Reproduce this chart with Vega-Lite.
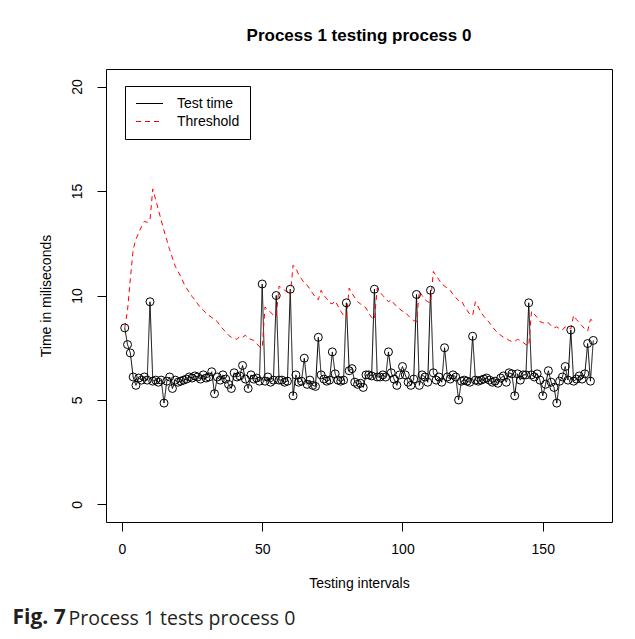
{
  "$schema": "https://vega.github.io/schema/vega-lite/v6.json",
  "background": "white",
  "padding": {"left": 12, "top": 26, "right": 5, "bottom": 5},
  "config": {
    "font": "Liberation Sans",
    "view": {"stroke": "black", "strokeWidth": 1},
    "concat": {"spacing": 0},
    "axis": {
      "domain": false, "grid": false,
      "tickColor": "black", "tickSize": 9, "tickWidth": 1,
      "labelFont": "Liberation Sans", "labelFontSize": 14, "labelColor": "black",
      "titleFont": "Liberation Sans", "titleFontSize": 14, "titleFontWeight": "normal", "titleColor": "black",
      "labelPadding": 11, "labelFlush": false, "labelOverlap": false
    }
  },
  "title": {"text": "Fig. 7", "orient": "bottom", "anchor": "start", "font": "Open Sans", "fontSize": 21, "fontWeight": "bold", "color": "#231f20", "offset": -21, "dx": -26},
  "vconcat": [
    {
      "title": {"text": "Process 1 tests process 0", "orient": "bottom", "anchor": "start", "font": "Open Sans", "fontSize": 19.5, "fontWeight": "normal", "color": "#231f20", "offset": 19, "dx": 30},
      "vconcat": [
        {
          "title": {"text": "Process 1 testing process 0", "font": "Liberation Sans", "fontSize": 17, "fontWeight": "bold", "color": "black", "offset": 24, "anchor": "middle", "frame": "group"},
          "width": 506,
          "height": 453,
          "data": {"values": [
            {"interval":1,"test":8.45,"threshold":8.45},{"interval":2,"test":7.65,"threshold":9.3},{"interval":3,"test":7.25,"threshold":10.8},{"interval":4,"test":6.1,"threshold":12.2},{"interval":5,"test":5.7,"threshold":12.7},
            {"interval":6,"test":6.05,"threshold":13.0},{"interval":7,"test":5.95,"threshold":13.3},{"interval":8,"test":6.1,"threshold":13.55},{"interval":9,"test":5.95,"threshold":13.5},{"interval":10,"test":9.7,"threshold":13.6},
            {"interval":11,"test":5.9,"threshold":15.1},{"interval":12,"test":5.95,"threshold":14.6},{"interval":13,"test":5.85,"threshold":14.1},{"interval":14,"test":5.95,"threshold":13.6},{"interval":15,"test":4.85,"threshold":13.1},
            {"interval":16,"test":5.9,"threshold":12.65},{"interval":17,"test":6.1,"threshold":12.2},{"interval":18,"test":5.55,"threshold":11.8},{"interval":19,"test":5.95,"threshold":11.4},{"interval":20,"test":5.85,"threshold":11.15},
            {"interval":21,"test":5.9,"threshold":10.9},{"interval":22,"test":5.95,"threshold":10.6},{"interval":23,"test":6.0,"threshold":10.35},{"interval":24,"test":6.1,"threshold":10.15},{"interval":25,"test":6.05,"threshold":9.95},
            {"interval":26,"test":6.15,"threshold":9.8},{"interval":27,"test":6.1,"threshold":9.6},{"interval":28,"test":6.0,"threshold":9.4},{"interval":29,"test":6.2,"threshold":9.3},{"interval":30,"test":6.05,"threshold":9.15},
            {"interval":31,"test":6.1,"threshold":9.05},{"interval":32,"test":6.35,"threshold":8.95},{"interval":33,"test":5.3,"threshold":8.85},{"interval":34,"test":6.1,"threshold":8.75},{"interval":35,"test":5.95,"threshold":8.55},
            {"interval":36,"test":6.2,"threshold":8.4},{"interval":37,"test":6.0,"threshold":8.25},{"interval":38,"test":5.75,"threshold":8.1},{"interval":39,"test":5.55,"threshold":8.0},{"interval":40,"test":6.3,"threshold":7.95},
            {"interval":41,"test":6.1,"threshold":7.9},{"interval":42,"test":6.15,"threshold":8.05},{"interval":43,"test":6.65,"threshold":8.0},{"interval":44,"test":6.0,"threshold":8.1},{"interval":45,"test":5.55,"threshold":7.95},
            {"interval":46,"test":6.2,"threshold":7.9},{"interval":47,"test":6.0,"threshold":7.85},{"interval":48,"test":6.05,"threshold":7.7},{"interval":49,"test":5.9,"threshold":7.55},{"interval":50,"test":10.55,"threshold":7.5},
            {"interval":51,"test":5.9,"threshold":9.45},{"interval":52,"test":6.1,"threshold":9.3},{"interval":53,"test":5.85,"threshold":9.2},{"interval":54,"test":5.95,"threshold":9.05},{"interval":55,"test":10.0,"threshold":9.0},
            {"interval":56,"test":5.95,"threshold":10.45},{"interval":57,"test":5.95,"threshold":10.35},{"interval":58,"test":5.85,"threshold":10.25},{"interval":59,"test":5.9,"threshold":10.15},{"interval":60,"test":10.3,"threshold":10.0},
            {"interval":61,"test":5.2,"threshold":11.45},{"interval":62,"test":6.2,"threshold":11.3},{"interval":63,"test":5.85,"threshold":11.0},{"interval":64,"test":5.9,"threshold":10.8},{"interval":65,"test":7.0,"threshold":10.6},
            {"interval":66,"test":5.75,"threshold":10.5},{"interval":67,"test":5.95,"threshold":10.3},{"interval":68,"test":5.7,"threshold":10.1},{"interval":69,"test":5.65,"threshold":9.9},{"interval":70,"test":8.0,"threshold":9.8},
            {"interval":71,"test":6.2,"threshold":10.25},{"interval":72,"test":6.0,"threshold":10.0},{"interval":73,"test":5.9,"threshold":9.85},{"interval":74,"test":5.95,"threshold":9.65},{"interval":75,"test":7.3,"threshold":9.6},
            {"interval":76,"test":6.25,"threshold":9.75},{"interval":77,"test":5.95,"threshold":9.5},{"interval":78,"test":5.9,"threshold":9.25},{"interval":79,"test":5.95,"threshold":9.05},{"interval":80,"test":9.65,"threshold":8.95},
            {"interval":81,"test":6.4,"threshold":10.35},{"interval":82,"test":6.5,"threshold":10.1},{"interval":83,"test":5.85,"threshold":9.9},{"interval":84,"test":5.75,"threshold":9.7},{"interval":85,"test":5.8,"threshold":9.6},
            {"interval":86,"test":5.6,"threshold":9.5},{"interval":87,"test":6.2,"threshold":9.4},{"interval":88,"test":6.2,"threshold":9.15},{"interval":89,"test":6.15,"threshold":8.95},{"interval":90,"test":10.3,"threshold":8.85},
            {"interval":91,"test":6.1,"threshold":10.35},{"interval":92,"test":6.1,"threshold":10.15},{"interval":93,"test":6.2,"threshold":10.0},{"interval":94,"test":6.1,"threshold":9.85},{"interval":95,"test":7.3,"threshold":9.7},
            {"interval":96,"test":6.3,"threshold":9.8},{"interval":97,"test":6.0,"threshold":9.6},{"interval":98,"test":5.7,"threshold":9.5},{"interval":99,"test":6.2,"threshold":9.35},{"interval":100,"test":6.6,"threshold":9.25},
            {"interval":101,"test":6.2,"threshold":9.2},{"interval":102,"test":5.85,"threshold":9.05},{"interval":103,"test":5.7,"threshold":8.9},{"interval":104,"test":6.0,"threshold":8.8},{"interval":105,"test":10.05,"threshold":8.75},
            {"interval":106,"test":5.7,"threshold":10.2},{"interval":107,"test":6.2,"threshold":10.0},{"interval":108,"test":6.1,"threshold":9.8},{"interval":109,"test":5.85,"threshold":9.7},{"interval":110,"test":10.25,"threshold":9.65},
            {"interval":111,"test":6.3,"threshold":11.15},{"interval":112,"test":5.95,"threshold":10.95},{"interval":113,"test":6.1,"threshold":10.75},{"interval":114,"test":5.85,"threshold":10.55},{"interval":115,"test":7.5,"threshold":10.45},
            {"interval":116,"test":6.1,"threshold":10.35},{"interval":117,"test":6.0,"threshold":10.25},{"interval":118,"test":6.2,"threshold":10.05},{"interval":119,"test":6.1,"threshold":9.9},{"interval":120,"test":5.0,"threshold":9.75},
            {"interval":121,"test":5.9,"threshold":9.75},{"interval":122,"test":5.95,"threshold":9.5},{"interval":123,"test":5.9,"threshold":9.3},{"interval":124,"test":5.85,"threshold":9.1},{"interval":125,"test":8.05,"threshold":9.05},
            {"interval":126,"test":5.95,"threshold":9.7},{"interval":127,"test":5.9,"threshold":9.45},{"interval":128,"test":5.95,"threshold":9.2},{"interval":129,"test":6.0,"threshold":9.0},{"interval":130,"test":6.05,"threshold":8.85},
            {"interval":131,"test":5.95,"threshold":8.7},{"interval":132,"test":5.85,"threshold":8.5},{"interval":133,"test":5.9,"threshold":8.35},{"interval":134,"test":5.8,"threshold":8.2},{"interval":135,"test":6.05,"threshold":8.1},
            {"interval":136,"test":6.15,"threshold":8.0},{"interval":137,"test":5.85,"threshold":7.95},{"interval":138,"test":6.3,"threshold":7.85},{"interval":139,"test":6.25,"threshold":7.8},{"interval":140,"test":5.2,"threshold":7.8},
            {"interval":141,"test":6.25,"threshold":7.9},{"interval":142,"test":5.95,"threshold":7.85},{"interval":143,"test":6.2,"threshold":7.75},{"interval":144,"test":6.2,"threshold":7.65},{"interval":145,"test":9.65,"threshold":7.6},
            {"interval":146,"test":6.2,"threshold":9.25},{"interval":147,"test":6.1,"threshold":9.1},{"interval":148,"test":6.25,"threshold":8.95},{"interval":149,"test":5.95,"threshold":8.75},{"interval":150,"test":5.2,"threshold":8.7},
            {"interval":151,"test":5.75,"threshold":8.65},{"interval":152,"test":6.4,"threshold":8.7},{"interval":153,"test":5.85,"threshold":8.55},{"interval":154,"test":5.6,"threshold":8.45},{"interval":155,"test":4.85,"threshold":8.5},
            {"interval":156,"test":5.9,"threshold":8.4},{"interval":157,"test":6.1,"threshold":8.35},{"interval":158,"test":6.6,"threshold":8.5},{"interval":159,"test":5.95,"threshold":8.45},{"interval":160,"test":8.35,"threshold":8.4},
            {"interval":161,"test":5.9,"threshold":9.05},{"interval":162,"test":6.0,"threshold":8.85},{"interval":163,"test":6.15,"threshold":8.7},{"interval":164,"test":6.0,"threshold":8.55},{"interval":165,"test":6.25,"threshold":8.4},
            {"interval":166,"test":7.7,"threshold":8.3},{"interval":167,"test":5.9,"threshold":8.85},{"interval":168,"test":7.85,"threshold":8.8}
          ]},
          "transform": [{"fold": ["test", "threshold"], "as": ["series", "ms"]}],
          "encoding": {
            "x": {"field": "interval", "type": "quantitative",
                  "scale": {"domain": [-5.68, 174.68], "nice": false, "zero": false},
                  "axis": {"values": [0, 50, 100, 150], "title": "Testing intervals", "titlePadding": 20}},
            "y": {"field": "ms", "type": "quantitative",
                  "scale": {"domain": [-0.84, 20.84], "nice": false, "zero": false},
                  "axis": {"values": [0, 5, 10, 15, 20], "title": "Time in miliseconds", "labelAngle": -90, "labelAlign": "center", "labelBaseline": "bottom", "labelPadding": 13, "titlePadding": 17}}
          },
          "layer": [
            {
              "mark": {"type": "line", "strokeWidth": 1, "clip": true},
              "encoding": {
                "stroke": {"field": "series", "type": "nominal",
                          "scale": {"domain": ["test", "threshold"], "range": ["black", "#ff0000"]},
                          "legend": {"title": null, "orient": "none", "legendX": 19, "legendY": 17, "strokeColor": "black", "fillColor": "white", "padding": 10, "symbolOffset": 7, "symbolType": "M-2,0H2", "symbolSize": 182, "symbolStrokeWidth": 1, "labelFont": "Liberation Sans", "labelFontSize": 14, "labelColor": "black", "labelOffset": 20, "rowPadding": 3, "labelExpr": "datum.label == 'test' ? 'Test time' : 'Threshold'"}},
                "strokeDash": {"field": "series", "type": "nominal",
                          "scale": {"domain": ["test", "threshold"], "range": [[1, 0], [5, 4]]},
                          "legend": {"title": null, "orient": "none", "legendX": 19, "legendY": 17, "strokeColor": "black", "fillColor": "white", "padding": 10, "symbolOffset": 7, "symbolType": "M-2,0H2", "symbolSize": 182, "symbolStrokeWidth": 1, "labelFont": "Liberation Sans", "labelFontSize": 14, "labelColor": "black", "labelOffset": 20, "rowPadding": 3, "labelExpr": "datum.label == 'test' ? 'Test time' : 'Threshold'"}}
              }
            },
            {
              "transform": [{"filter": "datum.series == 'test'"}],
              "mark": {"type": "point", "shape": "circle", "size": 64, "filled": false, "color": "black", "strokeWidth": 1, "opacity": 1}
            }
          ]
        }
      ]
    }
  ]
}
